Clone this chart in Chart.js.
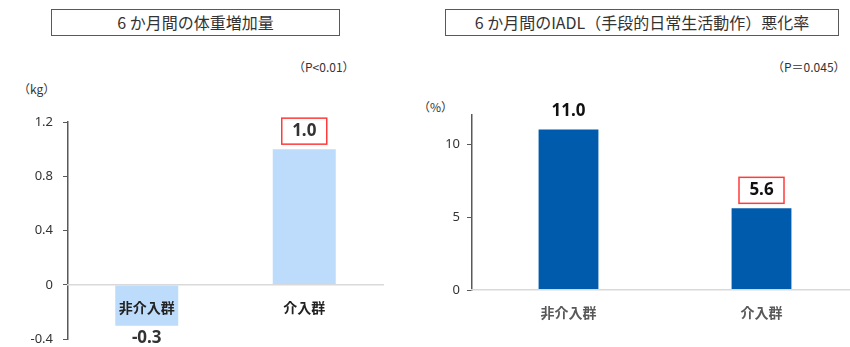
<!DOCTYPE html>
<html lang="ja">
<head>
<meta charset="utf-8">
<script src="https://cdn.jsdelivr.net/npm/chart.js@4"></script>
<style>
  html, body { margin: 0; padding: 0; background: #fff; overflow: hidden; }
  body { width: 850px; height: 347px; position: relative; font-family: "Noto Sans", "Noto Sans CJK JP", sans-serif; color: #333; }
  .title { position: absolute; top: 9px; height: 25px; border: 1px solid #595959; font-family: "Noto Sans CJK JP", sans-serif; font-size: 16px; line-height: 25px; text-align: center; color: #333; }
  .note { position: absolute; font-family: "Noto Sans CJK JP", sans-serif; font-size: 12px; line-height: 14px; color: #333; white-space: nowrap; }
  canvas { position: absolute; top: 0; }
</style>
</head>
<body>
<div class="title" style="left:51px;width:287px;">6 か月間の体重増加量</div>
<div class="title" style="left:445px;width:392px;">6 か月間のIADL（手段的日常生活動作）悪化率</div>
<div class="note" style="left:293px;top:60px;">（P&lt;0.01）</div>
<div class="note" style="left:18px;top:82px;">（kg）</div>
<div class="note" style="left:772px;top:60px;">（P＝0.045）</div>
<div class="note" style="left:418px;top:100px;">（%）</div>
<canvas id="weight" width="400" height="357" style="left:0;width:400px;height:357px;"></canvas>
<canvas id="iadl" width="448" height="347" style="left:410px;width:448px;height:347px;"></canvas>
<script>
const categories = ["非介入群", "介入群"];
const weightGain = [-0.3, 1.0];   // kg
const iadlWorse = [11.0, 5.6];    // %
const weightTicks = [-0.4, 0, 0.4, 0.8, 1.2];
const iadlTicks = [0, 5, 10];
const boxedBars = [false, true];  // red box around the intervention value

// value text over / under each bar
const valueLabels = {
  id: "valueLabels",
  afterDatasetsDraw(chart, args, opts) {
    const ctx = chart.ctx;
    const data = chart.data.datasets[0].data;
    chart.getDatasetMeta(0).data.forEach((bar, i) => {
      const v = data[i];
      const y = v >= 0 ? bar.y - opts.up : bar.y + opts.down;
      ctx.save();
      ctx.font = "bold 17px 'Noto Sans', sans-serif";
      ctx.fillStyle = opts.color;
      ctx.textAlign = "center";
      ctx.textBaseline = "middle";
      ctx.fillText(v.toFixed(1), bar.x, y);
      if (boxedBars[i]) {
        ctx.strokeStyle = "#ff3b3b";
        ctx.lineWidth = 1.5;
        ctx.strokeRect(bar.x - 22.5, y - 13, 45, 26);
      }
      ctx.restore();
    });
  },
};

const makeChart = function (el, values, ticks, o) {
  return new Chart(el, {
    type: "bar",
    data: {
      labels: categories,
      datasets: [{
        data: values,
        backgroundColor: o.barColor,
        categoryPercentage: 1,
        barPercentage: o.barPct,
      }],
    },
    options: {
      responsive: false,
      animation: false,
      layout: { padding: o.padding },
      plugins: {
        legend: { display: false },
        tooltip: { enabled: false },
        valueLabels: { up: o.up, down: 13, color: o.valueColor },
      },
      scales: {
        x: {
          position: { y: 0 },
          grid: { display: false, drawTicks: false },
          border: { color: "#d9d9d9", width: 1.5, z: 1 },
          ticks: {
            z: 1,
            padding: 14,
            color: o.catColor,
            font: { size: 14, weight: "bold", family: "'Noto Sans CJK JP', sans-serif" },
          },
        },
        y: {
          min: ticks[0],
          max: o.max,
          afterBuildTicks: (scale) => {
            scale.ticks = ticks.map((v) => ({ value: v }));
          },
          afterFit: (scale) => {
            scale.width = o.axisWidth;
          },
          grid: { drawOnChartArea: false, drawTicks: true, tickLength: 5, color: "#595959" },
          border: { color: "#595959", width: 1.5 },
          ticks: {
            padding: o.tickPad,
            color: "#333",
            font: { size: 13, family: "'Noto Sans', sans-serif" },
            callback: (v) => String(v),
          },
        },
      },
    },
    plugins: [valueLabels],
  });
};

makeChart(document.getElementById("weight"), weightGain, weightTicks, {
  max: 1.2,
  barColor: "#bddcfb",
  barPct: 0.4,
  padding: { top: 122, bottom: 7, right: 17, left: 0 },
  axisWidth: 68,
  tickPad: 10,
  up: 18,
  catColor: "#222",
  valueColor: "#333",
});

makeChart(document.getElementById("iadl"), iadlWorse, iadlTicks, {
  max: 12,
  barColor: "#005bac",
  barPct: 0.31,
  padding: { top: 115, bottom: 57, right: 0, left: 0 },
  axisWidth: 62,
  tickPad: 7,
  up: 18,
  catColor: "#595959",
  valueColor: "#111",
});
</script>
</body>
</html>
